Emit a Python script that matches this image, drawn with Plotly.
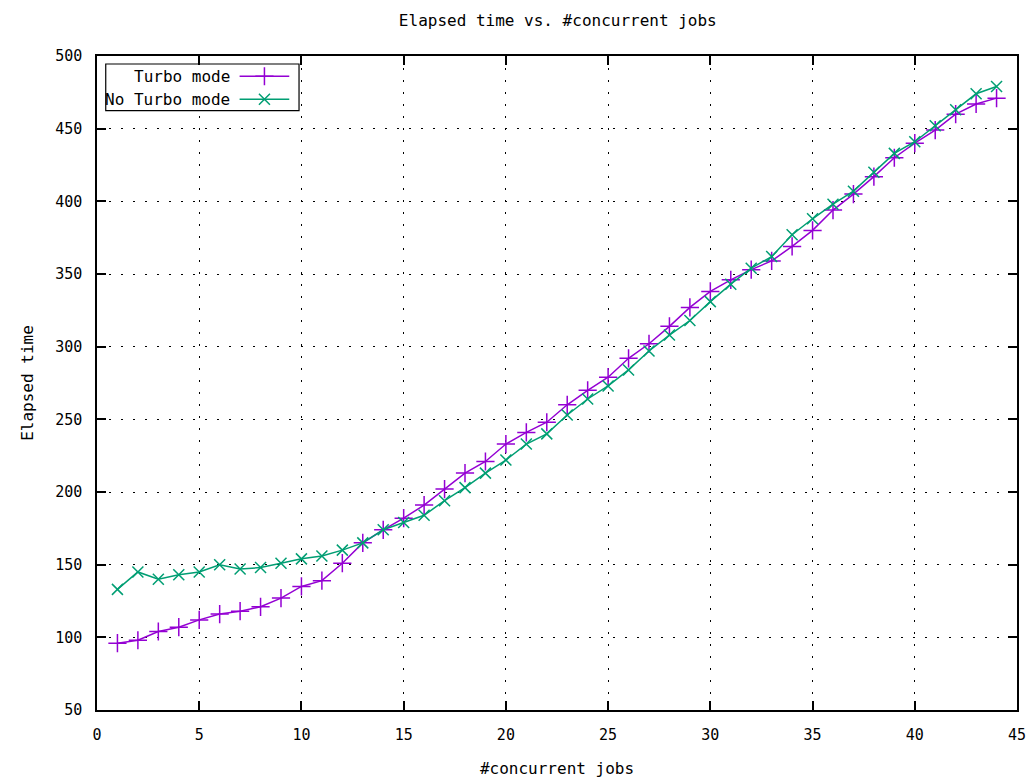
import plotly.graph_objects as go

# Elapsed time measured for 1..44 concurrent jobs
jobs = list(range(1, 45))

turbo = [96, 98, 104, 107, 112, 116, 118, 121, 127, 135,
         139, 151, 165, 174, 182, 191, 202, 213, 221, 233,
         241, 248, 260, 270, 279, 292, 302, 314, 327, 338,
         346, 353, 359, 369, 380, 394, 405, 417, 430, 440,
         449, 460, 467, 471]

no_turbo = [133, 145, 140, 143, 145, 150, 147, 148, 151, 154,
            156, 160, 165, 174, 179, 184, 194, 203, 213, 222,
            233, 240, 253, 264, 273, 284, 297, 308, 318, 331,
            343, 354, 362, 377, 388, 398, 407, 420, 433, 441,
            452, 463, 474, 479]

series_names = ["Turbo mode", "No Turbo mode"]
colors = ["#9400D3", "#009E73"]
symbols = ["cross-thin", "x-thin"]
symbol_sizes = [13, 11]

x_ticks = list(range(0, 46, 5))
y_ticks = list(range(50, 501, 50))

X_RANGE = [0, 45]
Y_RANGE = [50, 500]

FONT = "DejaVu Sans Mono"

fig = go.Figure()

for name, vals, col, sym, sz in zip(series_names, [turbo, no_turbo], colors, symbols, symbol_sizes):
    fig.add_trace(go.Scatter(
        x=jobs, y=vals, name=name, mode="lines+markers",
        line=dict(color=col, width=1.5),
        marker=dict(symbol=sym, size=sz, color=col, line=dict(color=col, width=1.5)),
        showlegend=False,
    ))

# Legend keys (sample line with marker) on an overlay axis spanning the plot area
key_x0, key_x1 = 0.155, 0.209
row_y = [0.969, 0.934]
for name, col, sym, sz, ry in zip(series_names, colors, symbols, symbol_sizes, row_y):
    fig.add_trace(go.Scatter(
        x=[key_x0, key_x1], y=[ry, ry], mode="lines", xaxis="x2", yaxis="y2",
        line=dict(color=col, width=1.5), showlegend=False, hoverinfo="skip",
    ))
    fig.add_trace(go.Scatter(
        x=[(key_x0 + key_x1) / 2], y=[ry], mode="markers", xaxis="x2", yaxis="y2",
        marker=dict(symbol=sym, size=sz, color=col, line=dict(color=col, width=1.5)),
        showlegend=False, hoverinfo="skip",
    ))
    fig.add_annotation(
        x=0.1465, y=ry, xref="paper", yref="paper", text=name, showarrow=False,
        xanchor="right", yanchor="middle", font=dict(family=FONT, size=16, color="black"),
    )

# Legend box: fractions of the plot area mapped onto the main axes so the
# white fill sits above the grid and below the traces
def frac_x(f):
    return X_RANGE[0] + f * (X_RANGE[1] - X_RANGE[0])

def frac_y(f):
    return Y_RANGE[0] + f * (Y_RANGE[1] - Y_RANGE[0])

fig.add_shape(
    type="rect", xref="x", yref="y",
    x0=frac_x(0.0095), x1=frac_x(0.2196), y0=frac_y(0.9164), y1=frac_y(0.9878),
    line=dict(color="black", width=1.2), fillcolor="white", layer="between",
)

axis_common = dict(
    showline=True, linecolor="black", linewidth=1.5, mirror="ticks",
    ticks="inside", ticklen=9, tickwidth=1.5, tickcolor="black",
    showgrid=True, gridcolor="black", gridwidth=1.2, griddash="2px,10px",
    zeroline=False, tickfont=dict(family=FONT, size=15, color="black"),
    ticklabelstandoff=10, automargin=False,
)

fig.update_layout(
    width=1033, height=778,
    margin=dict(l=97, r=16, t=56, b=68),
    paper_bgcolor="white", plot_bgcolor="white",
    title=dict(text="Elapsed time vs. #concurrent jobs", x=0.54, xanchor="center",
               y=0.974, yanchor="middle", font=dict(family=FONT, size=16, color="black")),
    xaxis=dict(range=X_RANGE, tickvals=x_ticks,
               title=dict(text="#concurrent jobs", standoff=20,
                          font=dict(family=FONT, size=16, color="black")),
               **axis_common),
    yaxis=dict(range=Y_RANGE, tickvals=y_ticks,
               title=dict(text="Elapsed time", standoff=18,
                          font=dict(family=FONT, size=16, color="black")),
               **axis_common),
    xaxis2=dict(overlaying="x", range=[0, 1], visible=False, fixedrange=True),
    yaxis2=dict(overlaying="y", range=[0, 1], visible=False, fixedrange=True),
    showlegend=False,
)

fig.write_html("out.html")
